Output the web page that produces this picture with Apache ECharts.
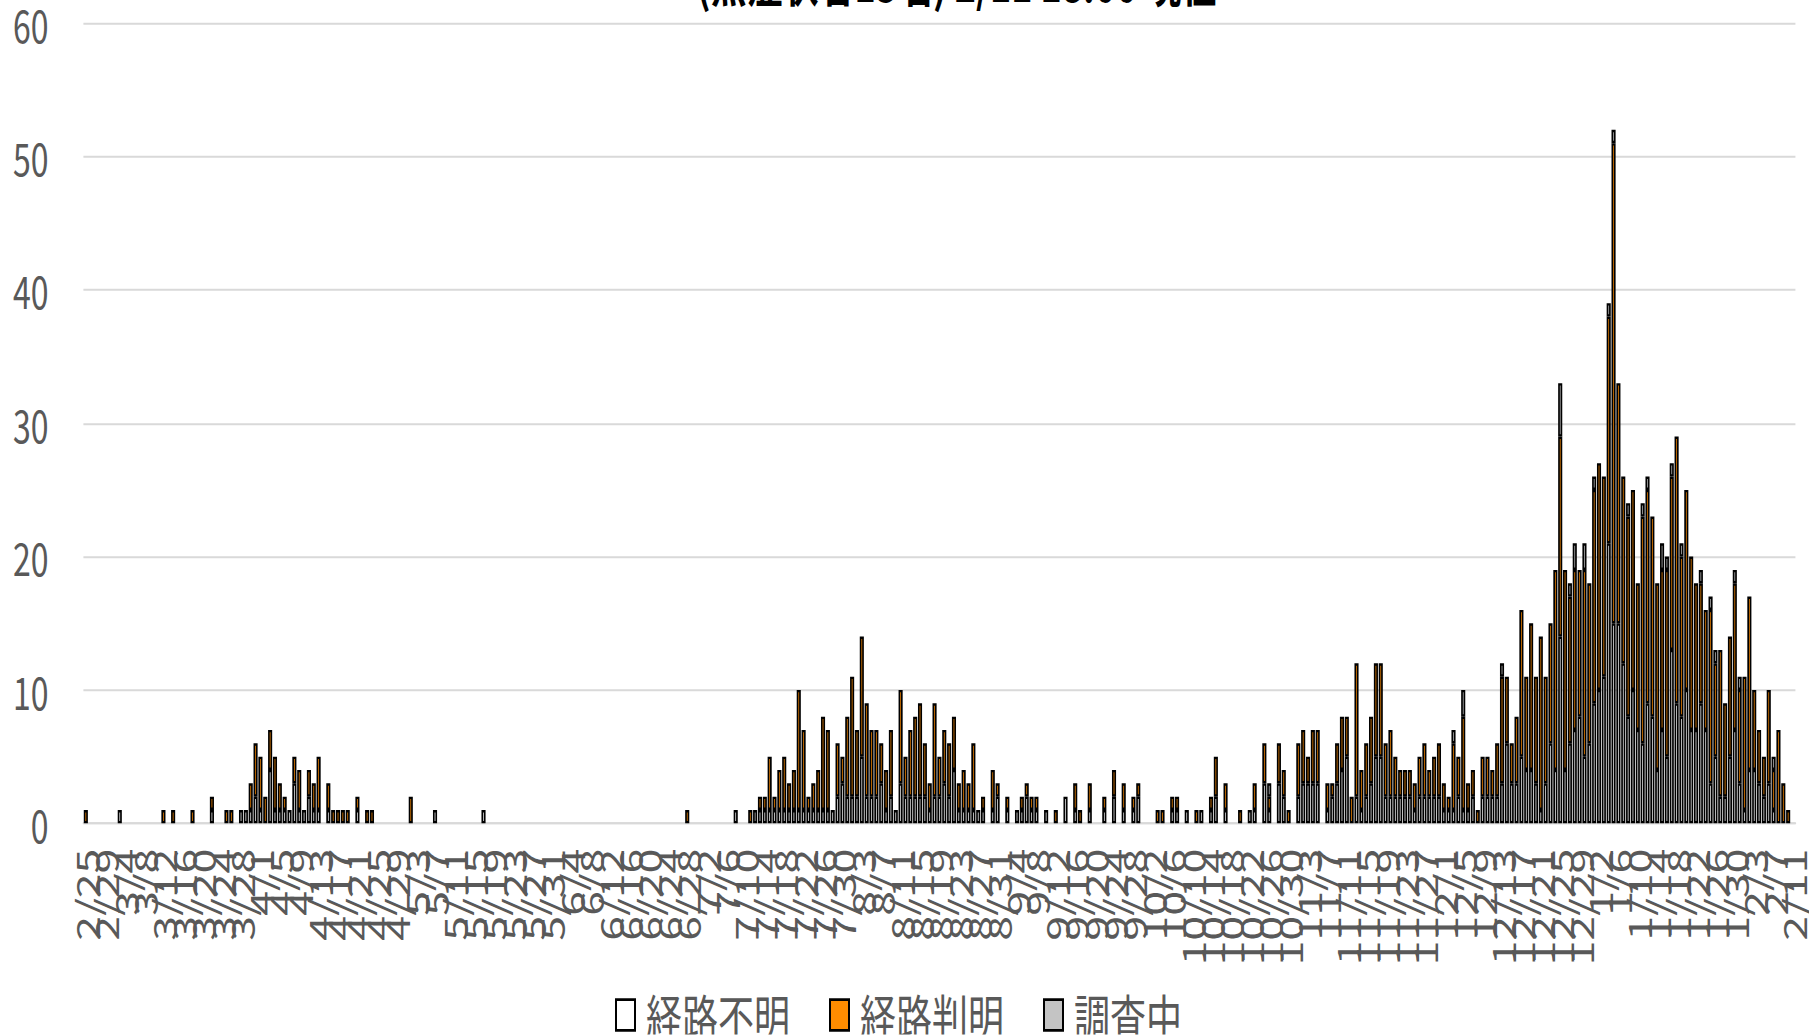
<!DOCTYPE html>
<html>
<head>
<meta charset="utf-8">
<script src="https://cdn.jsdelivr.net/npm/echarts@6/dist/echarts.min.js"></script>
<style>
html, body { margin: 0; padding: 0; background: #fff; width: 1809px; height: 1035px; }
/* the original picture is stretched vertically, so draw flat and stretch */
#main { width: 1809px; height: 739px; transform: scaleY(1.4); transform-origin: 0 0; }
</style>
</head>
<body>
<div id="main"></div>
<script>
// 経路不明 (2/25 〜 2/11, one row per month)
const unknownCount = [
  0,0,0,0,0,
  0,0,1,0,0,0,0,0,0,0, 0,0,0,0,0,0,0,0,0,0, 0,1,0,0,0,0,0,1,1,1, 2,
  1,0,4,1,1,1,1,3,1,1, 2,1,1,0,1,0,0,0,0,0, 1,0,0,0,0,0,0,0,0,0,
  0,0,0,0,0,0,1,0,0,0, 0,0,0,0,0,0,1,0,0,0, 0,0,0,0,0,0,0,0,0,0, 0,
  0,0,0,0,0,0,0,0,0,0, 0,0,0,0,0,0,0,0,0,0, 0,0,0,0,0,0,0,0,0,0,
  0,0,0,0,0,0,0,1,0,0, 0,0,1,1,1,1,1,1,1,1, 1,1,1,1,1,1,1,1,2,3, 2,
  2,2,5,2,2,2,3,1,2,1, 3,2,2,2,2,2,1,2,2,3, 2,4,1,1,1,1,1,1,0,1, 2,
  0,1,0,1,1,2,1,1,0,1, 0,0,0,2,0,1,0,0,1,0, 0,1,0,2,0,1,0,1,2,0,
  0,0,0,0,0,1,1,0,1,0, 0,1,0,1,2,0,1,0,0,0, 0,1,1,0,3,1,0,3,2,0, 0,
  2,3,3,3,3,0,1,2,3,4, 5,0,2,1,2,3,5,5,2,2, 2,2,2,2,1,2,2,2,2,2,
  1,1,1,2,1,1,2,0,2,2, 2,2,3,6,3,3,5,4,4,3, 1,3,6,4,14,4,6,7,8,5, 6,
  9,10,11,21,15,15,12,8,10,7, 6,9,8,4,7,5,13,9,8,10, 7,7,9,7,3,5,2,2,5,7, 3,
  1,4,4,3,2,3,1,0,0,0,0
];
// 経路判明
const knownCount = [
  1,0,0,0,0,
  0,0,0,0,0,0,0,0,0,0, 0,1,0,1,0,0,0,1,0,0, 0,1,0,0,1,1,0,0,0,2, 4,
  4,2,3,4,2,1,0,2,3,0, 2,2,4,0,2,1,1,1,1,0, 1,0,1,1,0,0,0,0,0,0,
  0,2,0,0,0,0,0,0,0,0, 0,0,0,0,0,0,0,0,0,0, 0,0,0,0,0,0,0,0,0,0, 0,
  0,0,0,0,0,0,0,0,0,0, 0,0,0,0,0,0,0,0,0,0, 0,0,0,0,0,0,0,1,0,0,
  0,0,0,0,0,0,0,0,0,0, 1,0,1,1,4,1,3,4,2,3, 9,6,1,2,3,7,6,0,4,2, 6,
  9,5,9,7,5,5,3,3,5,0, 7,3,5,6,7,4,2,7,3,4, 4,4,2,3,2,5,0,1,0,3, 1,
  0,1,0,0,1,1,1,1,0,0, 0,1,0,0,0,2,1,0,2,0, 0,1,0,2,0,2,0,1,1,0,
  0,0,1,1,0,1,1,0,0,0, 1,0,0,1,3,0,2,0,0,1, 0,0,2,0,3,1,0,3,2,1, 0,
  4,4,2,4,4,0,2,1,3,4, 3,2,10,3,4,5,7,7,4,5, 3,2,2,2,2,3,4,2,3,4,
  2,1,5,3,7,2,2,1,3,3, 2,4,8,5,3,5,11,7,11,8, 13,8,9,15,15,15,11,12,11,14, 12,
  16,17,15,17,36,18,14,15,15,11, 17,16,15,14,12,14,13,20,12,15, 13,11,9,9,13,7,11,7,9,11, 7,
  10,13,6,4,3,7,3,7,3,1,0
];
// 調査中
const pendingCount = [
  0,0,0,0,0,
  0,0,0,0,0,0,0,0,0,0, 0,0,0,0,0,0,0,0,0,0, 0,0,0,0,0,0,0,0,0,0, 0,
  0,0,0,0,0,0,0,0,0,0, 0,0,0,0,0,0,0,0,0,0, 0,0,0,0,0,0,0,0,0,0,
  0,0,0,0,0,0,0,0,0,0, 0,0,0,0,0,0,0,0,0,0, 0,0,0,0,0,0,0,0,0,0, 0,
  0,0,0,0,0,0,0,0,0,0, 0,0,0,0,0,0,0,0,0,0, 0,0,0,0,0,0,0,0,0,0,
  0,0,0,0,0,0,0,0,0,0, 0,1,0,0,0,0,0,0,0,0, 0,0,0,0,0,0,0,0,0,0, 0,
  0,0,0,0,0,0,0,0,0,0, 0,0,0,0,0,0,0,0,0,0, 0,0,0,0,0,0,0,0,0,0, 0,
  0,0,0,0,0,0,0,0,0,0, 0,0,0,0,0,0,0,0,0,0, 0,0,0,0,0,0,0,0,0,0,
  0,0,0,0,0,0,0,0,0,0, 0,0,0,0,0,0,0,0,0,0, 0,0,0,0,0,1,0,0,0,0, 0,
  0,0,0,0,0,0,0,0,0,0, 0,0,0,0,0,0,0,0,0,0, 0,0,0,0,0,0,0,0,0,0,
  0,0,1,0,2,0,0,0,0,0, 0,0,1,0,0,0,0,0,0,0, 0,0,0,0,4,0,1,2,0,2, 0,
  1,0,0,1,1,0,0,1,0,0, 1,1,0,0,2,1,1,0,1,0, 0,0,1,0,1,1,0,0,0,1, 1,
  0,0,0,0,0,0,1,0,0,0,0
];
const seriesNames = ['経路不明', '経路判明', '調査中'];
const titleText = '(無症状者13名) 2/11 18:00 現在';
const labelEvery = 4; // 4日ごとに日付

// 日付ラベル 2/25 から
const dates = [];
const start = Date.UTC(2020, 1, 25);
for (let i = 0; i < unknownCount.length; i++) {
  const d = new Date(start + i * 86400000);
  dates.push((d.getUTCMonth() + 1) + '/' + d.getUTCDate());
}

const font = '"Noto Sans CJK JP", "Noto Sans", sans-serif';
const noZero = a => a.map(v => (v === 0 ? null : v));

const barBase = {
  type: 'bar',
  stack: 'total',
  barWidth: 4.1,
  emphasis: { disabled: true }
};

const option = {
  animation: false,
  backgroundColor: '#fff',
  title: {
    text: titleText,
    left: 692,
    top: -37,
    textStyle: { fontSize: 36, fontWeight: 'bold', color: '#000', fontFamily: font }
  },
  legend: {
    data: seriesNames,
    left: 610,
    top: 702,
    icon: 'rect',
    itemWidth: 19,
    itemHeight: 22,
    itemGap: 39,
    textStyle: { fontSize: 36, color: '#595959', fontFamily: font, padding: [0, 0, 0, 6] }
  },
  grid: { left: 83.4, right: 9, top: 16.5, bottom: 150.9 },
  xAxis: {
    type: 'category',
    data: dates,
    boundaryGap: true,
    axisLine: { lineStyle: { color: '#d9d9d9', width: 1.5 } },
    axisTick: { interval: labelEvery - 1, length: 13, lineStyle: { color: '#d9d9d9', width: 1.5 } },
    axisLabel: {
      // 全ラベルを出して空文字で間引く(重なっても消されないように)
      interval: 0,
      formatter: (v, idx) => (idx % labelEvery === 0 ? v : ''),
      rotate: 90, fontSize: 32, color: '#595959', margin: 18, fontFamily: font
    }
  },
  yAxis: {
    type: 'value',
    min: 0,
    max: 60,
    interval: 10,
    axisLine: { show: false },
    axisTick: { show: false },
    splitLine: { lineStyle: { color: '#d9d9d9', width: 1.5 } },
    axisLabel: { fontSize: 32, color: '#595959', margin: 35, fontFamily: font }
  },
  series: [
    Object.assign({}, barBase, {
      name: seriesNames[0],
      data: noZero(unknownCount),
      itemStyle: { color: '#ffffff', borderColor: '#000', borderWidth: 1.7 }
    }),
    Object.assign({}, barBase, {
      name: seriesNames[1],
      data: noZero(knownCount),
      itemStyle: { color: '#ff8c00', borderColor: '#000', borderWidth: 1.7 }
    }),
    Object.assign({}, barBase, {
      name: seriesNames[2],
      data: noZero(pendingCount),
      itemStyle: { color: '#c4c4c4', borderColor: '#000', borderWidth: 1.7 }
    })
  ]
};

const chart = echarts.init(document.getElementById('main'), null, { renderer: 'svg' });
chart.setOption(option);
</script>
</body>
</html>
